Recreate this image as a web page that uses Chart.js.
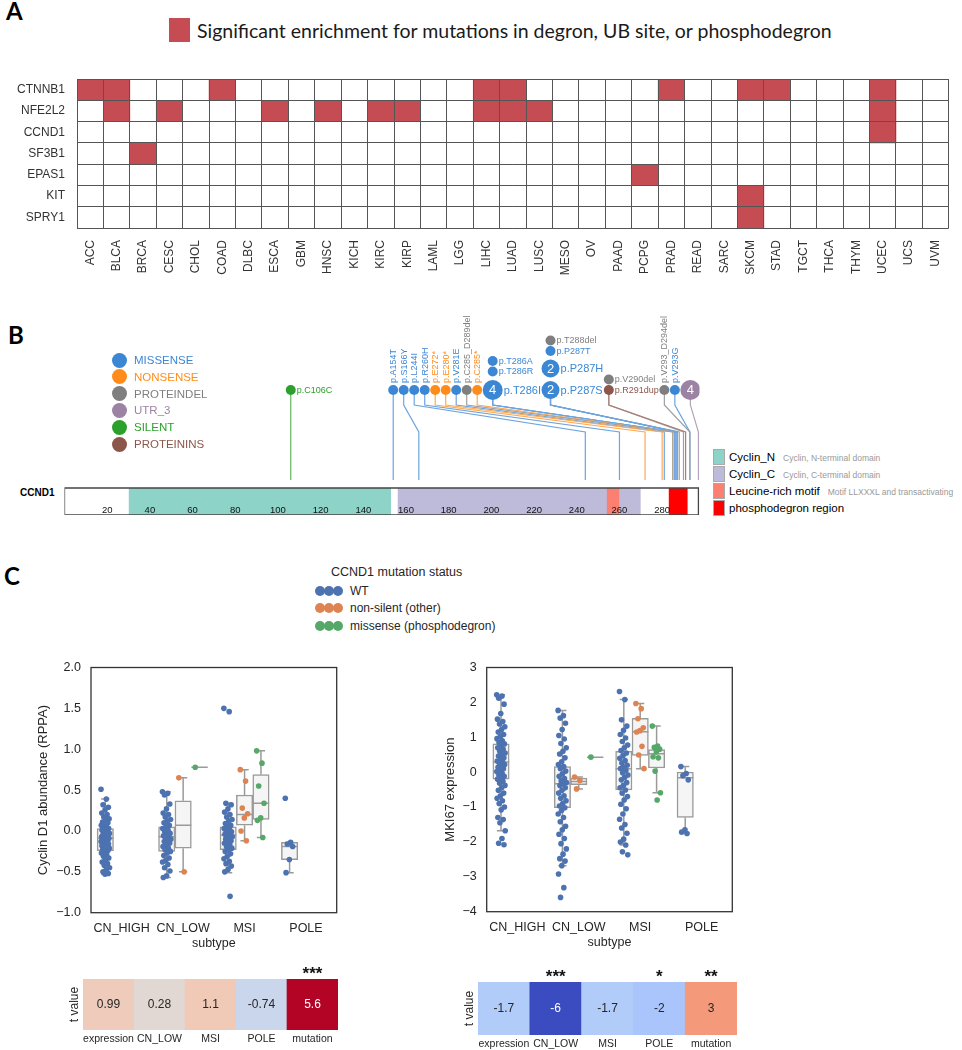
<!DOCTYPE html>
<html>
<head>
<meta charset="utf-8">
<title>Degron enrichment and CCND1 mutations</title>
<script src="https://cdn.jsdelivr.net/npm/chart.js@4.4.1/dist/chart.umd.min.js"></script>
<style>
  body { margin: 0; background: #fff; }
  #page { position: relative; width: 962px; height: 1050px; overflow: hidden; font-family: 'Liberation Sans', Arial, sans-serif; color: #333; }
  #page canvas, .abs { position: absolute; }
  .tag { font-family: Lato, 'Open Sans', sans-serif; font-weight: 700; font-size: 24px; line-height: 24px; color: #000; }
  .dot { position: absolute; border-radius: 50%; }
</style>
</head>
<body>
<div id="page">
  <div class="abs tag" style="left:6px;top:-1px">A</div>
  <div class="abs" style="left:169px;top:18px;width:21px;height:24px;background:#c64c54;"></div>
  <div class="abs" style="left:197px;top:17px;font-family:Lato,sans-serif;font-size:19.5px;line-height:28px;color:#1a1a1a;white-space:nowrap">Significant enrichment for mutations in degron, UB site, or phosphodegron</div>
  <div class="abs tag" style="left:8px;top:323px">B</div>
  <div class="abs" style="left:20px;top:487px;font-weight:bold;font-size:10px;line-height:12px;color:#000">CCND1</div>
  <div class="abs tag" style="left:4px;top:564px">C</div>
</div>
<script>
// ---- panel A: degron enrichment ----
const cancerTypes = ['ACC','BLCA','BRCA','CESC','CHOL','COAD','DLBC','ESCA','GBM','HNSC','KICH','KIRC','KIRP','LAML','LGG','LIHC','LUAD','LUSC','MESO','OV','PAAD','PCPG','PRAD','READ','SARC','SKCM','STAD','TGCT','THCA','THYM','UCEC','UCS','UVM'];
const genes = ['CTNNB1','NFE2L2','CCND1','SF3B1','EPAS1','KIT','SPRY1'];
const hitsCTNNB1 = ['ACC','BLCA','COAD','LIHC','LUAD','PRAD','SKCM','STAD','UCEC'];
const hitsNFE2L2 = ['BLCA','CESC','ESCA','HNSC','KIRC','KIRP','LIHC','LUAD','LUSC','UCEC'];
const hitsCCND1 = ['UCEC'];
const hitsSF3B1 = ['BRCA'];
const hitsEPAS1 = ['PCPG'];
const hitsKIT = ['SKCM'];
const hitsSPRY1 = ['SKCM'];
const geneHits = [hitsCTNNB1, hitsNFE2L2, hitsCCND1, hitsSF3B1, hitsEPAS1, hitsKIT, hitsSPRY1];

// ---- panel B: CCND1 mutations ----
const mutationTypes = ['MISSENSE','NONSENSE','PROTEINDEL','UTR_3','SILENT','PROTEININS'];
const mutLabels = ['p.C106C','p.A154T','p.S166Y','p.L244I','p.R260H','p.E272*','p.E280*','p.V281E','p.C285_D289del','p.C285*','p.T286I','p.T286R','p.T286A','p.P287S','p.P287H','p.P287T','p.T288del','p.R291dup','p.V290del','p.V293_D294del','p.V293G',''];
const mutPos = [106,154,166,244,260,272,280,281,285,285,286,286,286,287,287,287,288,291,290,293,293,297];
const mutType = ['SILENT','MISSENSE','MISSENSE','MISSENSE','MISSENSE','NONSENSE','NONSENSE','MISSENSE','PROTEINDEL','NONSENSE','MISSENSE','MISSENSE','MISSENSE','MISSENSE','MISSENSE','MISSENSE','PROTEINDEL','PROTEININS','PROTEINDEL','PROTEINDEL','MISSENSE','UTR_3'];
const mutCount = [1,1,1,1,1,1,1,1,1,1,4,1,1,2,2,1,1,1,1,1,1,4];
const mutSlot = [0,1,2,3,4,5,6,7,8,9,10,10,10,11,11,11,11,12,12,13,14,15];
const domainNames = ['Cyclin_N','Cyclin_C','Leucine-rich motif','phosphodegron region'];
const domainNotes = ['Cyclin, N-terminal domain','Cyclin, C-terminal domain','Motif LLXXXL and transactivating',''];
const domainStart = [30, 156, 254, 283];
const domainEnd = [153, 270, 260, 292];
const proteinLength = 297;
const proteinTicks = [20,40,60,80,100,120,140,160,180,200,220,240,260,280];

// ---- panel C: subtype box plots ----
const subtypes = ['CN_HIGH','CN_LOW','MSI','POLE'];
const statusNames = ['WT','non-silent (other)','missense (phosphodegron)'];
// Cyclin D1 abundance (RPPA), points per subtype
const cycWT = [
  [0.51,0.39,0.32,0.29,0.26,0.22,0.2,0.17,0.15,0.14,0.11,0.1,0.08,0.07,0.05,0.04,0.03,0.02,0.01,-0.01,-0.02,-0.03,-0.04,-0.05,-0.06,-0.06,-0.07,-0.08,-0.09,-0.09,-0.1,-0.11,-0.12,-0.12,-0.13,-0.14,-0.15,-0.16,-0.17,-0.18,-0.19,-0.2,-0.21,-0.22,-0.23,-0.24,-0.25,-0.27,-0.29,-0.31,-0.33,-0.35,-0.38,-0.4,-0.42,-0.45,-0.47,-0.5,-0.52,-0.53],
  [0.48,0.46,0.44,0.33,0.27,0.22,0.2,0.17,0.14,0.12,0.1,0.07,0.05,0.03,0.01,-0.01,-0.03,-0.05,-0.06,-0.07,-0.08,-0.1,-0.11,-0.13,-0.15,-0.17,-0.19,-0.21,-0.23,-0.25,-0.27,-0.3,-0.33,-0.36,-0.38,-0.41,-0.45,-0.49,-0.55,-0.57],
  [1.5,1.46,0.34,0.32,0.27,0.23,0.2,0.17,0.14,0.12,0.09,0.07,0.05,0.03,0.02,0.0,-0.01,-0.03,-0.04,-0.05,-0.06,-0.07,-0.09,-0.1,-0.12,-0.13,-0.15,-0.17,-0.19,-0.21,-0.23,-0.25,-0.28,-0.31,-0.34,-0.37,-0.4,-0.43,-0.47,-0.5,-0.8],
  [0.4,-0.14,-0.16,-0.19,-0.35,-0.51]
];
const cycNonSilent = [[], [0.65,-0.5], [0.75,0.61,0.28,0.21,0.16,0.0,-0.12], []];
const cycMissense = [[], [0.78], [0.98,0.83,0.55,0.34,0.16,0.13,-0.08], []];
// box stats: [low whisker, q1, median, q3, high whisker]
const cycWTBox = [[-0.53,-0.24,-0.09,0.03,0.39], [-0.57,-0.25,-0.07,0.05,0.48], [-0.51,-0.23,-0.05,0.05,0.34], [-0.51,-0.35,-0.19,-0.14,-0.14]];
const cycNonSilentBox = [null, [-0.5,-0.21,0.07,0.37,0.65], [-0.12,0.07,0.2,0.44,0.75], null];
const cycMissenseBox = [null, [0.78,0.78,0.78,0.78,0.78], [-0.08,0.14,0.34,0.69,0.98], null];

// MKI67 expression
const mkiWT = [
  [2.22,2.18,2.12,1.95,1.68,1.52,1.45,1.38,1.3,1.22,1.15,1.08,1.02,0.96,0.9,0.85,0.81,0.76,0.7,0.66,0.6,0.55,0.5,0.46,0.41,0.36,0.32,0.29,0.26,0.22,0.18,0.14,0.1,0.06,0.02,-0.03,-0.08,-0.12,-0.17,-0.2,-0.26,-0.32,-0.38,-0.45,-0.52,-0.6,-0.68,-0.75,-0.82,-0.9,-1.0,-1.08,-1.3,-1.36,-1.45,-1.68,-1.9,-2.04,-2.08],
  [1.77,1.62,1.55,1.4,1.22,1.05,0.95,0.82,0.7,0.6,0.52,0.41,0.3,0.22,0.16,0.1,0.03,-0.05,-0.12,-0.18,-0.25,-0.3,-0.33,-0.38,-0.45,-0.52,-0.6,-0.68,-0.75,-0.82,-0.9,-0.97,-1.02,-1.1,-1.2,-1.3,-1.42,-1.55,-1.65,-1.78,-1.9,-2.05,-2.2,-2.35,-2.48,-2.55,-2.68,-2.92,-3.31,-3.59],
  [2.31,2.08,1.5,1.32,1.2,1.08,0.98,0.88,0.78,0.7,0.62,0.55,0.48,0.4,0.33,0.26,0.2,0.14,0.1,0.05,-0.02,-0.08,-0.15,-0.22,-0.3,-0.38,-0.45,-0.51,-0.6,-0.7,-0.8,-0.92,-1.05,-1.2,-1.35,-1.5,-1.6,-1.75,-1.92,-2.0,-2.09,-2.28,-2.37],
  [0.16,-0.04,-0.1,-0.22,-1.65,-1.72,-1.76]
];
const mkiNonSilent = [[], [-0.14,-0.24,-0.48], [1.97,1.82,1.53,1.27,1.19,1.15,0.74,0.49,0.1], []];
const mkiMissense = [[], [0.43], [1.32,0.75,0.71,0.66,0.58,0.44,0.41,0.03,-0.59,-0.8], []];
const mkiWTBox = [[-1.68,-0.2,0.29,0.81,2.22], [-2.68,-1.02,-0.33,0.16,1.77], [-2.09,-0.51,0.1,0.6,2.08], [-1.74,-1.3,-0.16,0.0,0.16]];
const mkiNonSilentBox = [null, [-0.48,-0.36,-0.27,-0.17,-0.14], [0.1,0.48,1.16,1.54,1.97], null];
const mkiMissenseBox = [null, [0.43,0.43,0.43,0.43,0.43], [-0.59,0.12,0.53,0.65,1.32], null];

// t values
const tCols = ['expression','CN_LOW','MSI','POLE','mutation'];
const tCyclin = [0.99, 0.28, 1.1, -0.74, 5.6];
const starsCyclin = ['', '', '', '', '***'];
const tMki = [-1.7, -6, -1.7, -2, 3];
const starsMki = ['', '***', '', '*', '**'];

// ---------------------------------------------------------------
const FONT = "'Liberation Sans', Arial, sans-serif";
const RED = '#c64c54';
const typeColors = ['#3b87d4','#ff8c1a','#7f7f7f','#9c83a4','#2ca02c','#8c564b'];
const domainColors = ['#8dd3c7','#bebada','#fb8072','#ff0000'];
const hueColors = ['#4c72b0','#dd8452','#55a868'];

Chart.defaults.font.family = FONT;
Chart.defaults.color = '#333';
Chart.defaults.animation = false;
Chart.defaults.responsive = false;
Chart.defaults.events = [];
Chart.defaults.plugins.legend.display = false;
Chart.defaults.plugins.tooltip.enabled = false;

const page = document.getElementById('page');
function makeCanvas(left, top, width, height) {
  const c = document.createElement('canvas');
  c.width = width; c.height = height;
  c.style.left = left + 'px'; c.style.top = top + 'px';
  c.style.width = width + 'px'; c.style.height = height + 'px';
  page.appendChild(c);
  return c;
}
function addHtml(html) {
  page.insertAdjacentHTML('beforeend', html);
}
function tint(hex, k) {
  const n = parseInt(hex.slice(1), 16);
  const c = [n >> 16, (n >> 8) & 255, n & 255].map(v => Math.round(v + (255 - v) * k));
  return `rgb(${c.join(',')})`;
}

// ---- panel A chart ----
new Chart(makeCanvas(0, 60, 962, 225), {
  type: 'bar',
  data: {
    labels: cancerTypes,
    datasets: genes.map((g, r) => ({
      label: g,
      data: cancerTypes.map(() => [r, r + 1]),
      backgroundColor: cancerTypes.map(c => geneHits[r].includes(c) ? RED : 'rgba(0,0,0,0)'),
      borderWidth: 0,
      grouped: false,
      barPercentage: 1,
      categoryPercentage: 1
    }))
  },
  options: {
    layout: { padding: { top: 7, right: 1 } },
    scales: {
      x: {
        offset: true,
        grid: { offset: true, color: '#555', z: 1, drawTicks: false },
        border: { display: false },
        ticks: { minRotation: 90, maxRotation: 90, autoSkip: false, padding: 12, font: { size: 12 } },
        afterFit: s => { s.height = 57; }
      },
      y: { display: false, min: 0, max: 7, reverse: true },
      yLab: {
        type: 'category', labels: genes, position: 'left', offset: true,
        grid: { offset: true, color: '#555', z: 1, drawTicks: false },
        border: { display: false },
        ticks: { padding: 12, font: { size: 12 } },
        afterFit: s => { s.width = 77; }
      }
    }
  }
});

// ---- panel B: lollipop ----
const ROW_Y = 125, BEND_HI = 110, BEND_LO = 83, STEM_BASE = 35, BAR_H = 27;
const lolliInfo = [];
const typeIdx = t => mutationTypes.indexOf(t);
const radiusOf = i => mutCount[i] > 1 ? 8 + mutCount[i] / 2 : 5;
const labelSize = i => mutCount[i] > 1 ? 11 : 9;

const lolliText = {
  id: 'lolliText',
  afterDatasetsDraw(chart) {
    const idx = chart.data.datasets.findIndex(d => d.isCircles);
    const meta = chart.getDatasetMeta(idx);
    const ctx = chart.ctx;
    ctx.save();
    meta.data.forEach((el, i) => {
      const info = lolliInfo[i];
      if (!info) return;
      const r = radiusOf(i);
      if (mutCount[i] > 1) {
        ctx.fillStyle = '#fff';
        ctx.font = `13px ${FONT}`;
        ctx.textAlign = 'center'; ctx.textBaseline = 'middle';
        ctx.fillText(String(mutCount[i]), el.x, el.y + 0.5);
      }
      if (!mutLabels[i]) return;
      ctx.fillStyle = typeColors[typeIdx(mutType[i])];
      ctx.font = `${labelSize(i)}px ${FONT}`;
      ctx.textAlign = 'left'; ctx.textBaseline = 'middle';
      if (info.horizontal) {
        ctx.fillText(mutLabels[i], el.x + r + 1, el.y + 0.5);
      } else {
        ctx.save();
        ctx.translate(el.x + 0.5, el.y - r - 2);
        ctx.rotate(-Math.PI / 2);
        ctx.fillText(mutLabels[i], 0, 0);
        ctx.restore();
      }
    });
    ctx.restore();
  }
};

const bDatasets = [];
domainNames.forEach((d, k) => {
  bDatasets.push({
    label: d, data: [{ x: domainStart[k], y: BAR_H }, { x: domainEnd[k], y: BAR_H }],
    showLine: true, fill: 'origin', backgroundColor: domainColors[k], borderWidth: 0, pointRadius: 0, order: 20 - k
  });
});
bDatasets.push({
  label: 'CCND1', data: [{ x: 0, y: 0 }, { x: proteinLength, y: 0 }, { x: proteinLength, y: BAR_H }, { x: 0, y: BAR_H }, { x: 0, y: 0 }],
  showLine: true, fill: false, borderColor: '#444', borderWidth: 1.3, pointRadius: 0, order: 10
});
mutLabels.forEach((m, i) => {
  bDatasets.push({
    label: 'stem ' + i, data: [], showLine: true, fill: false, pointRadius: 0,
    borderColor: tint(typeColors[typeIdx(mutType[i])], 0.25), borderWidth: 1.2, order: 5
  });
});
bDatasets.push({
  label: 'mutations', isCircles: true, data: [],
  pointRadius: mutCount.map((c, i) => radiusOf(i)),
  backgroundColor: mutType.map(t => typeColors[typeIdx(t)]),
  borderWidth: 0, order: 1
});

const lolli = new Chart(makeCanvas(63, 298, 638, 220), {
  type: 'scatter',
  data: { datasets: bDatasets },
  options: {
    layout: { autoPadding: false, padding: { left: 1.5, right: 1.5, bottom: 3 } },
    scales: {
      x: {
        type: 'linear', min: 0, max: 297.5,
        grid: { display: false, drawTicks: false },
        border: { display: false },
        afterBuildTicks: s => { s.ticks = proteinTicks.map(v => ({ value: v })); },
        ticks: { z: 1, autoSkip: false, maxRotation: 0, mirror: true, padding: -1.5, color: '#111', font: { size: 9.5 } },
        afterFit: s => { s.height = 0; }
      },
      y: { type: 'linear', display: false, min: 0, max: 217 }
    }
  },
  plugins: [lolliText]
});

(function layoutLollipops(chart) {
  const xs = chart.scales.x, ys = chart.scales.y, ctx = chart.ctx;
  const nSlots = Math.max(...mutSlot) + 1;
  const slots = [];
  for (let s = 0; s < nSlots; s++) {
    const members = mutSlot.map((v, i) => v === s ? i : -1).filter(i => i >= 0);
    slots.push({ members, pos: Math.min(...members.map(i => mutPos[i])) });
  }
  slots.forEach((s, k) => {
    const near = slots.filter((o, j) => j !== k).map(o => Math.abs(o.pos - s.pos));
    s.isolated = Math.min(...near) > 30;
    s.horizontal = s.members.length > 1 || s.isolated;
    s.left = Math.max(...s.members.map(radiusOf));
    s.right = s.horizontal
      ? Math.max(...s.members.map(i => {
          ctx.font = `${labelSize(i)}px ${FONT}`;
          return radiusOf(i) + 1 + ctx.measureText(mutLabels[i]).width;
        }))
      : s.left;
  });
  let prev = null;
  slots.forEach(s => {
    s.px = (s.isolated || !prev) ? xs.getPixelForValue(s.pos) : prev.px + prev.right + 0.5 + s.left;
    prev = s.isolated ? null : s;
  });
  const circles = [];
  const rowPx = ys.getPixelForValue(ROW_Y);
  slots.forEach(s => {
    let y = rowPx, prevR = null;
    const sx = xs.getValueForPixel(s.px);
    s.members.forEach(i => {
      const r = radiusOf(i);
      if (prevR !== null) y -= prevR + r + (prevR > 6 ? 3.5 : 0.5);
      circles[i] = { x: sx, y: ys.getValueForPixel(y) };
      lolliInfo[i] = { horizontal: s.horizontal };
      prevR = r;
      const stem = chart.data.datasets.find(d => d.label === 'stem ' + i);
      stem.data = [{ x: sx, y: ROW_Y }, { x: sx, y: BEND_HI }, { x: mutPos[i], y: BEND_LO }, { x: mutPos[i], y: STEM_BASE }];
    });
  });
  chart.data.datasets.find(d => d.isCircles).data = circles;
  chart.update('none');
})(lolli);

// legends for panel B
mutationTypes.forEach((t, k) => {
  const cy = 360 + k * 16.8;
  addHtml(`<div class="dot" style="left:${119 - 7.5}px;top:${cy - 7.5}px;width:15px;height:15px;background:${typeColors[k]}"></div>` +
    `<div class="abs" style="left:134px;top:${cy - 8}px;line-height:16px;font-size:11.5px;color:${typeColors[k]}">${t}</div>`);
});
domainNames.forEach((d, k) => {
  const cy = 456.7 + k * 17;
  addHtml(`<div class="abs" style="left:713px;top:${cy - 7.5}px;width:10px;height:14px;background:${domainColors[k]};border:0.5px solid #aaa"></div>` +
    `<div class="abs" style="left:729px;top:${cy - 8}px;line-height:16px;font-size:11.5px;color:#000;white-space:nowrap">${d}` +
    `<span style="font-size:8.5px;color:#999;margin-left:8px">${domainNotes[k]}</span></div>`);
});

// ---- panel C: box plots ----
addHtml(`<div class="abs" style="left:331px;top:564px;line-height:16px;font-size:12.5px;color:#262626">CCND1 mutation status</div>`);
statusNames.forEach((s, k) => {
  const cy = 591 + k * 17.4;
  let dots = '';
  [315, 324, 333].forEach(x => { dots += `<div class="dot" style="left:${x}px;top:${cy - 5}px;width:10px;height:10px;background:${hueColors[k]}"></div>`; });
  addHtml(dots + `<div class="abs" style="left:350px;top:${cy - 8}px;line-height:16px;font-size:12px;color:#262626;white-space:nowrap">${s}</div>`);
});

const hueOffsets = [-0.267, 0, 0.267];
const BOX_HALF = 0.1335, CAP_HALF = 0.067, JITTER = 0.07;
const jitter = i => ((i * 0.618034) % 1 - 0.5) * 2 * JITTER;
const fmtMinus = (v, d) => (v < 0 ? '\u2212' : '') + Math.abs(v).toFixed(d);

const framePlugin = {
  id: 'frame',
  afterDraw(chart) {
    const { ctx, chartArea: a } = chart;
    ctx.save();
    ctx.strokeStyle = '#333';
    ctx.lineWidth = 1.3;
    ctx.strokeRect(a.left, a.top, a.right - a.left, a.bottom - a.top);
    ctx.restore();
  }
};

function boxChart(canvas, cfg) {
  const datasets = [];
  cfg.boxes.forEach((hueBoxes, h) => {
    const bars = [], lines = [];
    hueBoxes.forEach((b, c) => {
      if (!b) return;
      const x = c + hueOffsets[h];
      const [lo, q1, med, q3, hi] = b;
      bars.push({ x, y: [q1, q3] });
      lines.push(
        { x, y: q3 }, { x, y: hi }, { x, y: null },
        { x: x - CAP_HALF, y: hi }, { x: x + CAP_HALF, y: hi }, { x, y: null },
        { x, y: q1 }, { x, y: lo }, { x, y: null },
        { x: x - CAP_HALF, y: lo }, { x: x + CAP_HALF, y: lo }, { x, y: null },
        { x: x - BOX_HALF, y: med }, { x: x + BOX_HALF, y: med }, { x, y: null });
    });
    datasets.push({ type: 'bar', data: bars, grouped: false, barPercentage: 1, categoryPercentage: 1,
      backgroundColor: '#f5f5f5', borderColor: '#9a9a9a', borderWidth: 1.5, borderSkipped: false, order: 3 });
    datasets.push({ type: 'scatter', data: lines, showLine: true, pointRadius: 0, borderColor: '#9a9a9a', borderWidth: 1.5, order: 2 });
  });
  cfg.points.forEach((groups, h) => {
    const pts = [];
    groups.forEach((vals, c) => vals.forEach((v, i) => pts.push({ x: c + hueOffsets[h] + jitter(i), y: v })));
    datasets.push({ type: 'scatter', data: pts, pointRadius: 2.8, backgroundColor: hueColors[h], borderWidth: 0, order: 1 });
  });
  return new Chart(canvas, {
    type: 'scatter',
    data: { datasets },
    options: {
      layout: { autoPadding: false, padding: { top: 9, right: cfg.padRight } },
      scales: {
        x: {
          type: 'linear', min: -0.5, max: 3.5, offset: false,
          grid: { display: false, drawTicks: false }, border: { display: false },
          afterBuildTicks: s => { s.ticks = subtypes.map((n, i) => ({ value: i })); },
          ticks: { autoSkip: false, maxRotation: 0, padding: 8, color: '#262626', font: { size: 12.5 }, callback: v => subtypes[v] },
          title: { display: true, text: 'subtype', color: '#262626', font: { size: 12.5 }, padding: { top: 0, bottom: 3.5 } },
          afterFit: s => { s.height = 42.3; }
        },
        y: {
          min: cfg.yMin, max: cfg.yMax,
          grid: { display: false, drawTicks: false }, border: { display: false },
          ticks: { stepSize: cfg.yStep, padding: 10, color: '#262626', font: { size: 12.5 }, callback: v => fmtMinus(v, cfg.decimals) },
          title: { display: true, text: cfg.yTitle, color: '#262626', font: { size: 13 }, padding: { top: cfg.titlePad, bottom: 0 } },
          afterFit: s => { s.width = cfg.yWidth; }
        }
      }
    },
    plugins: [framePlugin]
  });
}

boxChart(makeCanvas(30, 650, 310, 305), {
  points: [cycWT, cycNonSilent, cycMissense],
  boxes: [cycWTBox, cycNonSilentBox, cycMissenseBox],
  yMin: -1, yMax: 2, yStep: 0.5, decimals: 1,
  yTitle: 'Cyclin D1 abundance (RPPA)', yWidth: 61, titlePad: 5.2, padRight: 3.3
});
boxChart(makeCanvas(442, 650, 294, 304), {
  points: [mkiWT, mkiNonSilent, mkiMissense],
  boxes: [mkiWTBox, mkiNonSilentBox, mkiMissenseBox],
  yMin: -4, yMax: 3, yStep: 1, decimals: 0,
  yTitle: 'MKI67 expression', yWidth: 44.7, titlePad: 0.5, padRight: 3.7
});

// ---- t value heatmaps ----
const coolwarmStops = [[59,76,192],[98,130,234],[141,176,254],[184,208,249],[221,221,221],[245,196,173],[244,154,123],[222,96,77],[180,4,38]];
function coolwarm(t) {
  t = Math.max(0, Math.min(1, t));
  const p = t * (coolwarmStops.length - 1);
  const i = Math.min(Math.floor(p), coolwarmStops.length - 2), f = p - i;
  const c = coolwarmStops[i].map((v, k) => Math.round(v + (coolwarmStops[i + 1][k] - v) * f));
  return `rgb(${c.join(',')})`;
}

const cellText = {
  id: 'cellText',
  afterDatasetsDraw(chart) {
    const ds = chart.data.datasets[0];
    const meta = chart.getDatasetMeta(0);
    const ctx = chart.ctx;
    ctx.save();
    ctx.textAlign = 'center';
    meta.data.forEach((el, i) => {
      const v = ds.tValues[i];
      const t = 0.5 + v / (2 * ds.vmax);
      ctx.fillStyle = Math.abs(t - 0.5) > 0.35 ? '#fff' : '#262626';
      ctx.font = `12px ${FONT}`;
      ctx.textBaseline = 'middle';
      ctx.fillText(String(v), el.x, (el.y + el.base) / 2);
      if (ds.stars[i]) {
        ctx.fillStyle = '#111';
        ctx.font = `bold 17px ${FONT}`;
        ctx.textBaseline = 'alphabetic';
        ctx.fillText(ds.stars[i], el.x, chart.chartArea.top - 0.5);
      }
    });
    ctx.restore();
  }
};

function tHeatmap(canvas, values, stars) {
  const vmax = Math.max(...values.map(Math.abs));
  return new Chart(canvas, {
    type: 'bar',
    data: {
      labels: tCols,
      datasets: [{
        data: values.map(() => [0, 1]), tValues: values, stars, vmax,
        backgroundColor: values.map(v => coolwarm(0.5 + v / (2 * vmax))),
        borderWidth: 0, barPercentage: 1, categoryPercentage: 1
      }]
    },
    options: {
      layout: { autoPadding: false, padding: { top: 21, right: 2 } },
      scales: {
        x: {
          grid: { display: false, drawTicks: false }, border: { display: false },
          ticks: { padding: 3, maxRotation: 0, autoSkip: false, color: '#262626', font: { size: 10.5 } },
          afterFit: s => { s.height = 20; }
        },
        y: {
          min: 0, max: 1,
          grid: { display: false, drawTicks: false }, border: { display: false },
          ticks: { display: false },
          title: { display: true, text: 't value', color: '#262626', font: { size: 12 }, padding: { top: 2, bottom: 0 } },
          afterFit: s => { s.width = 18; }
        }
      }
    },
    plugins: [cellText]
  });
}

tHeatmap(makeCanvas(64.7, 958.3, 275, 92), tCyclin, starsCyclin);
tHeatmap(makeCanvas(459.6, 960.7, 279, 94), tMki, starsMki);
</script>
</body>
</html>
